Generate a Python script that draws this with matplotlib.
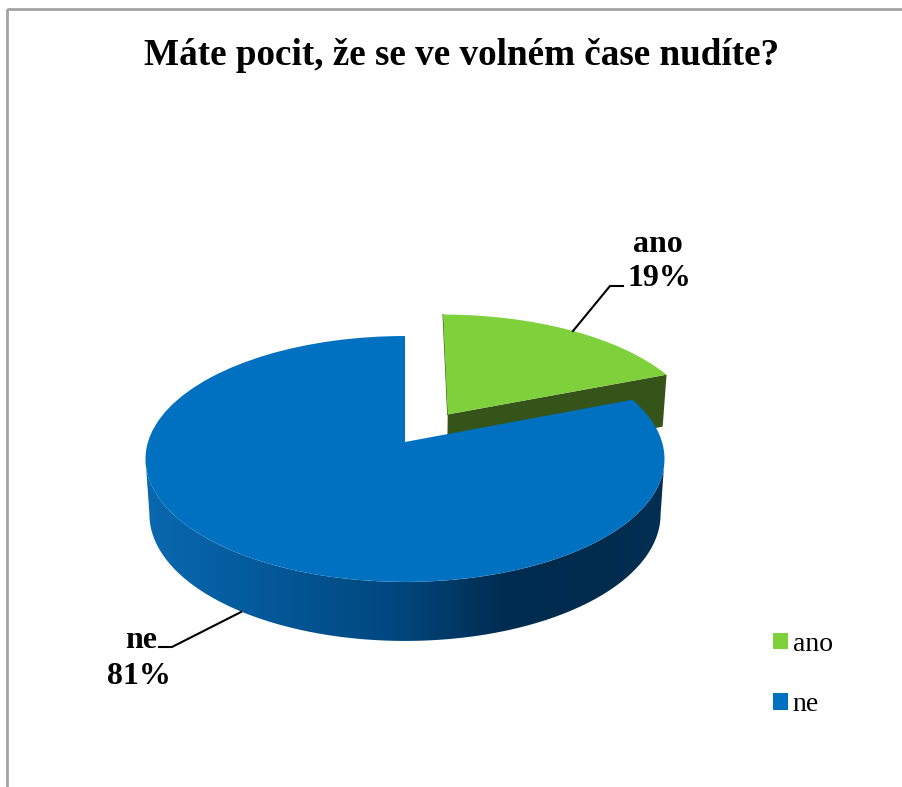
import numpy as np
import matplotlib
matplotlib.use("Agg")
import matplotlib.pyplot as plt
from matplotlib.colors import LinearSegmentedColormap
from matplotlib.patches import PathPatch, Rectangle
from matplotlib.path import Path
from matplotlib.transforms import Affine2D, Transform

title = "Máte pocit, že se ve volném čase nudíte?"
categories = ["ano", "ne"]
values = [19, 81]
colors = ["#7FD13B", "#0070C0"]
wall_dark = "#35541A"
explode = [0.28, 0]

W, H = 903, 787
CX, CY, A, C, K = 405.0, 442.0, -59.6, 0.138, 257.0
DEPTH, SHRINK = 52.0, 0.015
GREEN_SHIFT = (3.5, -0.5)
plt.rcParams["font.family"] = ["Liberation Serif", "DejaVu Serif"]


def project(u, v, z=0.0):
    w = 1 + C * v
    return CX + K * u * (1 - SHRINK * z) / w, (A * v + CY) / w + DEPTH * (1.05 - 0.085 * v) * z


class PieProjection(Transform):
    input_dims = output_dims = 2

    def __init__(self, z=0.0):
        super().__init__()
        self.z = z

    def transform_non_affine(self, values):
        p = np.asarray(values, dtype=float)
        return np.column_stack(project(p[:, 0], p[:, 1], self.z))


fig = plt.figure(figsize=(W / 100, H / 100), dpi=100)
ax = fig.add_axes([0, 0, 1, 1])
wedges, _ = ax.pie(values, colors=colors, explode=explode, startangle=90,
                   counterclock=False, wedgeprops={"linewidth": 0})

# blue outer wall: left-to-right shading clipped to the front part of the wall
split = 2 * np.pi * values[0] / sum(values)
th = np.linspace(split, 2 * np.pi, 800)
xa_all, _ = project(np.sin(th), np.cos(th), 0)
th = th[np.argmax(xa_all):np.argmin(xa_all) + 1]
u, v = np.sin(th), np.cos(th)
xa, ya = project(u, v, 0)
xb, yb = project(u, v, 1)
shade = LinearSegmentedColormap.from_list(
    "wall", [(0.0, "#0A68AE"), (0.18, "#055C9F"), (0.5, "#00467C"), (0.68, "#002D52"),
             (0.85, "#002B4D"), (1.0, "#032F52")])
img = ax.imshow(np.linspace(0, 1, 520)[None, :], cmap=shade, vmin=0, vmax=1, aspect="auto",
                extent=(145, 664, 400, 660), zorder=3, interpolation="bilinear")
wall_verts = np.column_stack([np.r_[xa, xb[::-1]], np.r_[ya, yb[::-1]]])
wall_clip = PathPatch(Path(np.vstack([wall_verts, wall_verts[:1]]), closed=True),
                      transform=ax.transData, fc="none", ec="none")
ax.add_patch(wall_clip)
img.set_clip_path(wall_clip)

ax.set_aspect("auto")
ax.set_xlim(0, W)
ax.set_ylim(H, 0)
ax.set_xticks([])
ax.set_yticks([])
for s in ax.spines.values():
    s.set_visible(False)

ax.add_patch(Rectangle((7, 9), W + 20, H + 20, fill=False, ec="#A3A3A3", lw=2, zorder=0))

for w, shift in zip(wedges, [GREEN_SHIFT, (0, 0)]):
    w.set_transform(PieProjection(0) + Affine2D().translate(*shift) + ax.transData)
    w.set_zorder(5)

# green slice: front cut face and thin left edge
mid = split / 2
ex, ey = explode[0] * np.sin(mid), explode[0] * np.cos(mid)
gu, gv = np.sin(split) + ex, np.cos(split) + ey
x0, y0 = project(np.array([ex, gu]), np.array([ey, gv]), 0)
x1, y1 = project(np.array([ex, gu]), np.array([ey, gv]), 1)
ax.fill(np.r_[x0, x1[::-1]] + GREEN_SHIFT[0], np.r_[y0, y1[::-1]] + GREEN_SHIFT[1],
        color=wall_dark, lw=0, zorder=2)
lx, ly = project(np.array([ex, ex]), np.array([ey + 1, ey]), 0)
ax.plot(lx + GREEN_SHIFT[0], ly + GREEN_SHIFT[1], color=wall_dark, lw=0.8, zorder=2)

# title
ax.text(461.5, 65, title, ha="center", va="baseline", fontsize=26.7, fontweight="bold", color="black")

# data labels with leaders
lab = dict(ha="center", va="baseline", fontsize=23, fontweight="bold", color="black")
ax.text(658, 252, categories[0], **lab)
ax.text(659, 286, f"{values[0]}%", **lab)
ax.text(141, 648, categories[1], **lab)
ax.text(138.5, 684, f"{values[1]}%", **lab)
ax.plot([573, 610, 623], [331, 286, 286], color="black", lw=1.5, zorder=6)
ax.plot([241, 172, 159], [612, 647, 647], color="black", lw=1.5, zorder=6)

# legend
ax.legend(wedges, categories, loc="upper left", bbox_to_anchor=(773 / W, 1 - 632 / H),
          frameon=False, fontsize=20, borderpad=0, borderaxespad=0, handlelength=0.54,
          handleheight=0.54, handletextpad=0.17, labelspacing=1.275)

fig.savefig("out.png", dpi=100, facecolor="white")
